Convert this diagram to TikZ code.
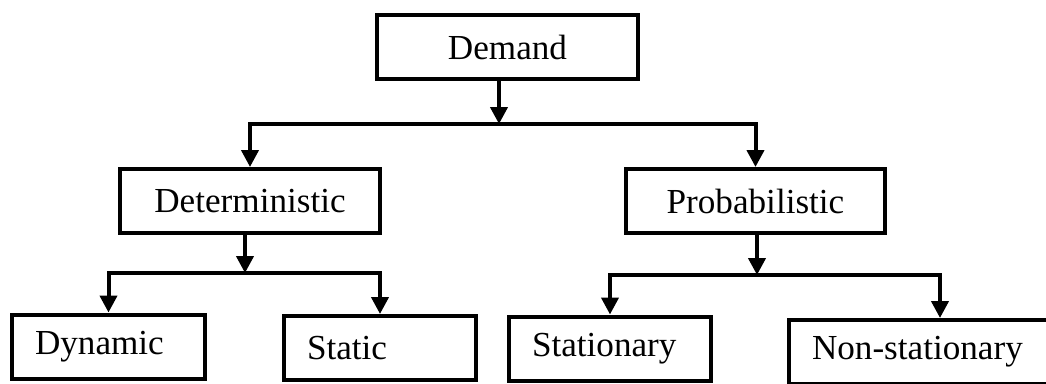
\documentclass[tikz,border=0pt]{standalone}
\usepackage{fontspec}
\setmainfont{Liberation Serif}
\usetikzlibrary{arrows.meta}

\begin{document}
\begin{tikzpicture}[
    x=0.02cm, y=-0.02cm,
    block/.style={rectangle, draw, line width=0.08cm, font=\fontsize{20}{24}\selectfont, minimum height=1.28cm},
    leaf/.style={block, align=left, inner xsep=0.46cm},
    line/.style={draw, line width=0.08cm, -{Triangle[length=0.34cm, width=0.34cm]}}
]
    \useasboundingbox (0,0) rectangle (1046,383);

    \node [block, minimum width=5.22cm] (demand) at (507.5,47) {Demand};

    \node [block, minimum width=5.2cm] (det) at (250,201) {Deterministic};
    \node [block, minimum width=5.18cm] (prob) at (755.5,201) {Probabilistic};

    \node [leaf, text width=2.94cm] (dyn) at (108.5,346.5) {Dynamic};
    \node [leaf, text width=2.92cm] (stat) at (380,348) {Static};
    \node [leaf, text width=3.12cm] (stati) at (610,348.5) {Stationary};
    \node [leaf, text width=5.12cm] (nonst) at (940,352) {Non-stationary};

    \coordinate (jtop) at (499,124);
    \coordinate (jdet) at (245,273);
    \coordinate (jprob) at (757,275);

    \draw [line] (demand.south -| jtop) -- (jtop);
    \draw [line] (jtop) -| (det);
    \draw [line] (jtop) -| (prob);

    \draw [line] (det.south -| jdet) -- (jdet);
    \draw [line] (jdet) -| (dyn);
    \draw [line] (jdet) -| (stat);

    \draw [line] (prob.south -| jprob) -- (jprob);
    \draw [line] (jprob) -| (stati);
    \draw [line] (jprob) -| (nonst);
\end{tikzpicture}
\end{document}
